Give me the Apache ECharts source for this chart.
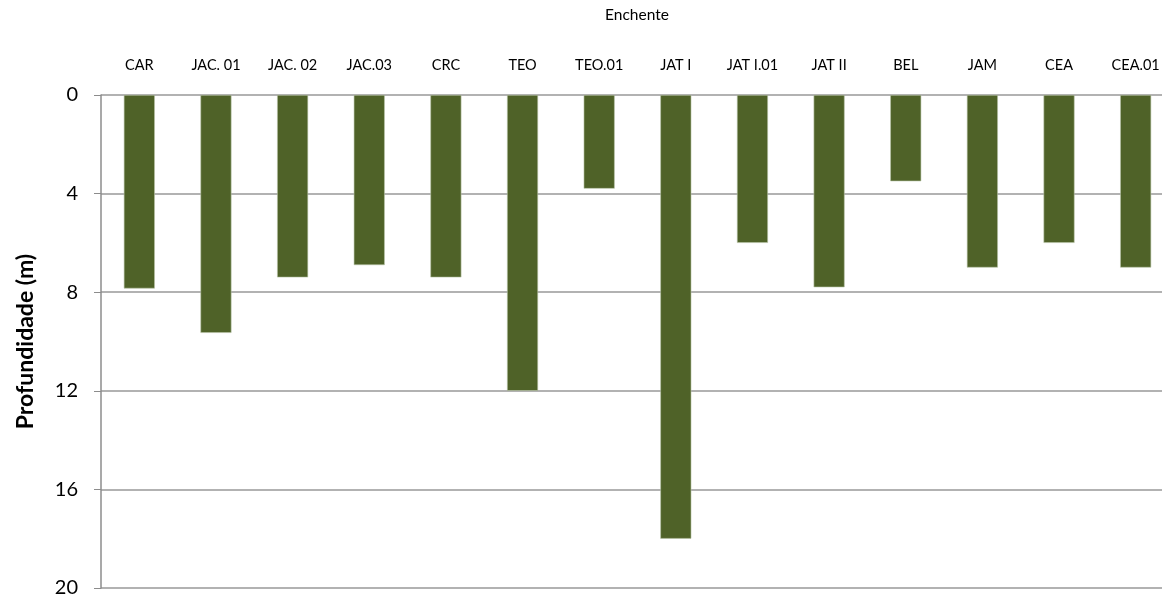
<!DOCTYPE html>
<html>
<head>
<meta charset="utf-8">
<script src="https://cdn.jsdelivr.net/npm/echarts@6/dist/echarts.min.js"></script>
<style>
  html, body { margin: 0; padding: 0; background: #fff; }
  #chart { width: 1162px; height: 597px; }
</style>
</head>
<body>
<div id="chart"></div>
<script>
// Sampling stations
const stations = ['CAR', 'JAC. 01', 'JAC. 02', 'JAC.03', 'CRC', 'TEO', 'TEO.01', 'JAT I', 'JAT I.01', 'JAT II', 'BEL', 'JAM', 'CEA', 'CEA.01'];
// Depth at each station during the flood season (m)
const depths = [7.85, 9.65, 7.4, 6.9, 7.4, 12.0, 3.8, 18.0, 6.0, 7.8, 3.5, 7.0, 6.0, 7.0];

const chart = echarts.init(document.getElementById('chart'));
const fontFamily = 'Lato, "Open Sans", sans-serif';

chart.setOption({
  animation: false,
  textStyle: { fontFamily },
  title: {
    text: 'Enchente',
    left: 632,
    textAlign: 'center',
    top: 2,
    textStyle: { fontSize: 15.5, fontWeight: 'normal', color: '#000', fontFamily }
  },
  // the plot runs slightly past the right edge of the canvas
  grid: {
    left: 101, width: 1073, top: 95, bottom: 9,
    containLabel: false,
    outerBoundsMode: 'none'
  },
  xAxis: {
    type: 'category',
    position: 'top',
    data: stations,
    axisLine: { show: false },
    axisTick: { show: false },
    axisLabel: { color: '#000', fontSize: 14.5, margin: 22, fontFamily, interval: 0 }
  },
  yAxis: {
    type: 'value',
    inverse: true,
    min: 0,
    max: 20,
    interval: 4,
    name: 'Profundidade (m)',
    nameLocation: 'middle',
    nameGap: 64,
    nameRotate: 90,
    nameTextStyle: { fontSize: 23, fontWeight: 'bold', color: '#000', fontFamily },
    axisLine: { show: true, lineStyle: { color: '#8c8c8c', width: 1.5 } },
    axisTick: { show: true, length: 7, lineStyle: { color: '#8c8c8c', width: 1 } },
    axisLabel: { color: '#000', fontSize: 20, margin: 23, fontFamily },
    splitLine: { show: true, lineStyle: { color: '#999999', width: 1.5 } }
  },
  series: [{
    type: 'bar',
    data: depths,
    barWidth: 31,
    itemStyle: { color: '#4f6228', borderColor: '#b8c4a8', borderWidth: 0.6 }
  }]
});
</script>
</body>
</html>
